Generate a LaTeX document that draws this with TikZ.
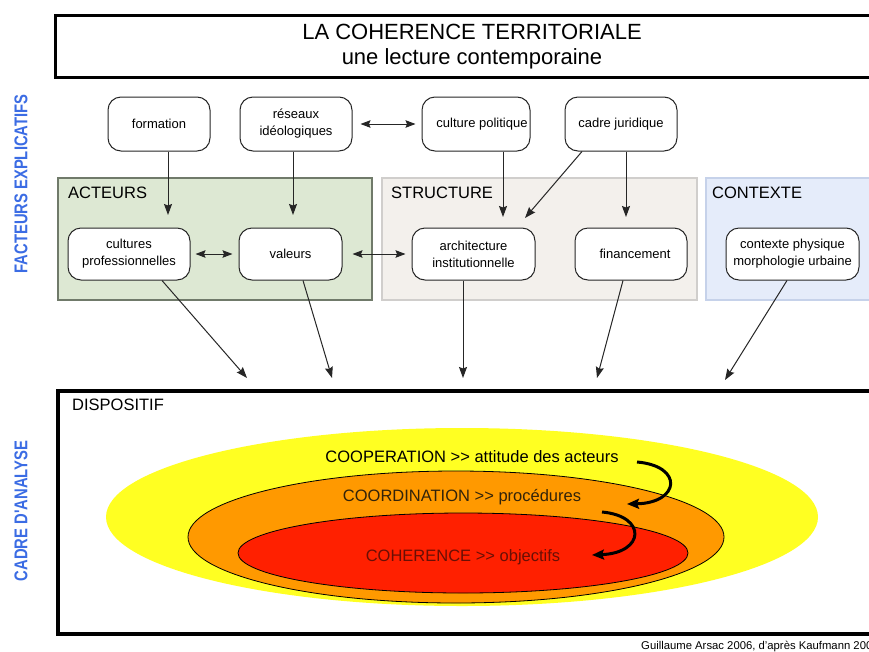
\documentclass[tikz,border=0pt]{standalone}
\usepackage{fontspec}
\setmainfont{Liberation Sans}
\newfontfamily\narrowfont[FakeStretch=0.8]{Liberation Sans}
\usetikzlibrary{arrows.meta}
\definecolor{vblue}{RGB}{59,108,228}
\definecolor{agreen}{RGB}{221,232,211}
\definecolor{agreenline}{RGB}{112,122,106}
\definecolor{sbeige}{RGB}{243,240,236}
\definecolor{sline}{RGB}{208,206,204}
\definecolor{cblue}{RGB}{229,236,250}
\definecolor{cline}{RGB}{198,210,234}
\definecolor{eyellow}{RGB}{255,255,34}
\definecolor{eorange}{RGB}{255,153,0}
\definecolor{ered}{RGB}{255,32,0}
\begin{document}
\begin{tikzpicture}[x=1pt,y=-1pt,
  box/.style={draw=black!85, line width=1pt, fill=white, rounded corners=13pt,
    align=center, font=\fontsize{13}{17}\selectfont, inner sep=0pt},
  arr/.style={-{Stealth[length=11pt,width=8pt,inset=1.5pt]}, line width=1pt, black!85},
  darr/.style={{Stealth[length=10pt,width=7.5pt,inset=1.5pt]}-{Stealth[length=10pt,width=7.5pt,inset=1.5pt]}, line width=1pt, black!85},
  curv/.style={-{Stealth[length=12pt,width=10pt,inset=2pt]}, line width=3pt, black},
  grouplabel/.style={anchor=west, font=\fontsize{16.5}{19}\selectfont, inner sep=0pt},
  sidelabel/.style={rotate=90, text=vblue, font=\narrowfont\bfseries\fontsize{18.5}{20}\selectfont, inner sep=0pt},
  ringtext/.style={font=\fontsize{16.5}{19}\selectfont, inner sep=0pt}]
\useasboundingbox (0,0) rectangle (869,651);
\fill[white] (0,0) rectangle (869,651);

% title
\draw[line width=3pt] (55,15) rectangle (885,77);
\node[font=\fontsize{22}{25}\selectfont, inner sep=0pt] (t1) at (472,32) {LA COHERENCE TERRITORIALE};
\node[font=\fontsize{22}{25}\selectfont, inner sep=0pt] (t2) at (472,59) {une lecture contemporaine};

% side labels
\node[sidelabel] (fe) at (21,184) {FACTEURS EXPLICATIFS};
\node[sidelabel] (ca) at (21,511) {CADRE D'ANALYSE};

% group backgrounds
\draw[fill=agreen, draw=agreenline, line width=1.2pt] (58,178) rectangle (372,300);
\draw[fill=sbeige, draw=sline, line width=1.2pt] (382,178) rectangle (697,300);
\draw[fill=cblue, draw=cline, line width=1.2pt] (706,178) rectangle (885,300);
\node[grouplabel] (gA) at (68,193) {ACTEURS};
\node[grouplabel] (gS) at (391,193) {STRUCTURE};
\node[grouplabel] (gC) at (712,193) {CONTEXTE};

% top row
\node[box, minimum width=102pt, minimum height=54pt] (formation) at (159,124) {formation};
\node[box, minimum width=112pt, minimum height=54pt] (reseaux) at (296,124) {réseaux\\idéologiques};
\node[box, minimum width=108pt, minimum height=54pt] (culpol) at (476,124) {\hspace*{12pt}culture politique};
\node[box, minimum width=112pt, minimum height=54pt] (cadre) at (621,124) {cadre juridique};

% middle row
\node[box, minimum width=122pt, minimum height=52pt] (cultpro) at (129,254) {cultures\\professionnelles};
\node[box, minimum width=103pt, minimum height=52pt] (valeurs) at (290.5,254) {valeurs};
\node[box, minimum width=123pt, minimum height=52pt] (archi) at (473.5,254) {architecture\\institutionnelle};
\node[box, minimum width=112pt, minimum height=52pt] (finan) at (631,254) {\hspace*{8pt}financement};
\node[box, minimum width=133pt, minimum height=52pt] (contexte) at (792.5,254) {contexte physique\\morphologie urbaine};

% arrow coordinates
\coordinate (xf) at (168,215);
\coordinate (xr) at (293,215);
\coordinate (xcp) at (503,217);
\coordinate (scj) at (582,0);
\coordinate (xcj) at (525,218);
\coordinate (xfi) at (626,217);
\coordinate (s1) at (162,0);
\coordinate (e1) at (247,378);
\coordinate (s2) at (303,0);
\coordinate (e2) at (332,378);
\coordinate (s3) at (463,0);
\coordinate (e3) at (463,378);
\coordinate (s4) at (623,0);
\coordinate (e4) at (597,378);
\coordinate (s5) at (787,0);
\coordinate (e5) at (725,380);

\draw[arr] (formation.south -| xf) -- (xf);
\draw[arr] (reseaux.south -| xr) -- (xr);
\draw[darr, shorten <=8pt, shorten >=6pt] (reseaux.east) -- (culpol.west);
\draw[darr, shorten <=5pt, shorten >=6pt] (cultpro.east) -- (valeurs.west);
\draw[darr, shorten <=10pt, shorten >=6pt] (valeurs.east) -- (archi.west);
\draw[arr] (culpol.south -| xcp) -- (xcp);
\draw[arr] (cadre.south -| scj) -- (xcj);
\draw[arr] (cadre.south -| xfi) -- (xfi);
\draw[arr] (cultpro.south -| s1) -- (e1);
\draw[arr] (valeurs.south -| s2) -- (e2);
\draw[arr] (archi.south -| s3) -- (e3);
\draw[arr] (finan.south -| s4) -- (e4);
\draw[arr] (contexte.south -| s5) -- (e5);

% dispositif frame
\draw[line width=4pt] (58,391) rectangle (885,634);
\node[grouplabel] (disp) at (72,405) {DISPOSITIF};

% ellipses
\fill[eyellow] (462,517) ellipse [x radius=356, y radius=89];
\draw[fill=eorange, line width=0.8pt] (456,537) ellipse [x radius=268, y radius=66];
\draw[fill=ered, line width=0.8pt] (463,553) ellipse [x radius=225, y radius=40];

\node[ringtext] (coop) at (472,457) {COOPERATION >{}> attitude des acteurs};
\node[ringtext, text={rgb,255:red,50;green,35;blue,10}] (coord) at (462,497) {COORDINATION >{}> procédures};
\node[ringtext, text={rgb,255:red,105;green,15;blue,5}] (coh) at (463,557) {COHERENCE >{}> objectifs};

\coordinate (c1a) at (637,462);
\coordinate (c1b) at (627,504);
\coordinate (c2a) at (602,512);
\coordinate (c2b) at (592,555);
\draw[curv] (c1a) .. controls (684,466) and (680,503) .. (c1b);
\draw[curv] (c2a) .. controls (647,516) and (645,553) .. (c2b);

% credit
\node[anchor=west, font=\fontsize{11.3}{13}\selectfont, inner sep=0pt] (credit) at (641,646) {Guillaume Arsac 2006, d'après Kaufmann 200};
\end{tikzpicture}
\end{document}
